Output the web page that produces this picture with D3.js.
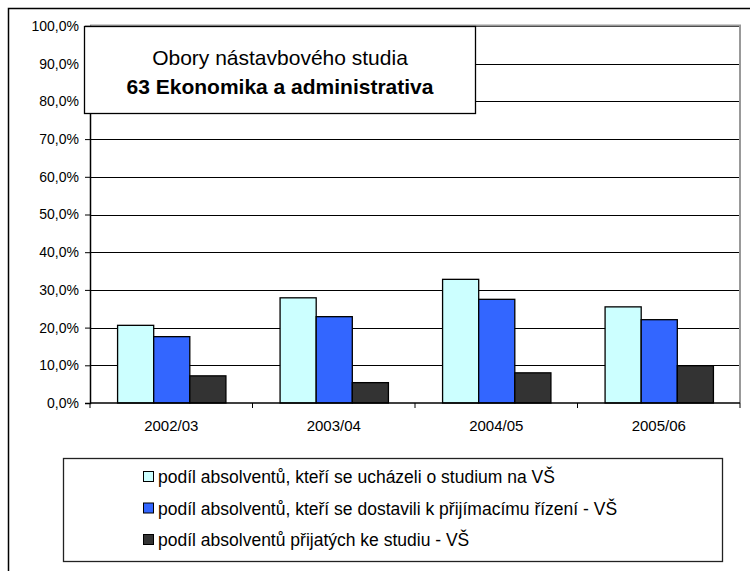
<!DOCTYPE html>
<html>
<head>
  <meta charset="utf-8">
  <script src="https://d3js.org/d3.v7.min.js"></script>
  <style>
    body { margin: 0; background: #fff; }
    text { font-family: "Liberation Sans", Arial, sans-serif; fill: #000; }
    .tick line { stroke: #000; }
    .domain { stroke: #000; }
  </style>
</head>
<body>
  <svg width="750" height="571"></svg>
  <script>
    const years = ['2002/03', '2003/04', '2004/05', '2005/06'];
    const seriesNames = [
      'podíl absolventů, kteří se ucházeli o studium na VŠ',
      'podíl absolventů, kteří se dostavili k přijímacímu řízení - VŠ',
      'podíl absolventů přijatých ke studiu - VŠ'
    ];
    const uchazeli = [20.6, 27.9, 32.8, 25.5];
    const dostavili = [17.6, 22.9, 27.5, 22.1];
    const prijati = [7.2, 5.4, 8.0, 9.9];
    const colors = ['#CCFFFF', '#3366FF', '#333333'];
    const yTicks = [0, 10, 20, 30, 40, 50, 60, 70, 80, 90, 100];
    const titleLines = ['Obory nástavbového studia', '63 Ekonomika a administrativa'];

    const seriesValues = [uchazeli, dostavili, prijati];

    const margin = { left: 90, top: 26 };
    const svg = d3.select('svg');
    const innerWidth = 740 - margin.left;
    const innerHeight = 403 - margin.top;

    // outer chart frame (left and top only visible)
    svg.append('path')
      .attr('d', 'M8.5,571 L8.5,8.5 L750,8.5')
      .attr('fill', 'none')
      .attr('stroke', '#000')
      .attr('stroke-width', 1.5);

    const g = svg.append('g')
      .attr('transform', `translate(${margin.left},${margin.top})`);

    const xScale = d3.scaleBand().domain(years).range([0, innerWidth]);
    const innerBand = d3.scaleBand()
      .domain(d3.range(seriesNames.length))
      .range([0, xScale.bandwidth()])
      .paddingOuter(0.75)
      .paddingInner(0);
    const yScale = d3.scaleLinear().domain([0, 100]).range([innerHeight, 0]);

    // gridlines
    g.append('g')
      .selectAll('line')
      .data(yTicks.slice(1))
      .enter().append('line')
      .attr('x1', 0)
      .attr('x2', innerWidth)
      .attr('y1', d => Math.round(yScale(d)) + 0.5)
      .attr('y2', d => Math.round(yScale(d)) + 0.5)
      .attr('stroke', '#000');

    // plot frame top/right (grey)
    g.append('path')
      .attr('d', `M0,-0.5 L${innerWidth},-0.5 L${innerWidth},${innerHeight}`)
      .attr('fill', 'none')
      .attr('stroke', '#999')
      .attr('stroke-width', 2);

    // bars
    const groups = g.selectAll('.grp')
      .data(years)
      .enter().append('g')
      .attr('class', 'grp')
      .attr('transform', d => `translate(${xScale(d)},0)`);

    groups.selectAll('rect')
      .data((d, i) => seriesValues.map((s, k) => ({ k: k, v: s[i] })))
      .enter().append('rect')
      .attr('x', d => innerBand(d.k) + 0.5)
      .attr('width', innerBand.bandwidth())
      .attr('y', d => yScale(d.v))
      .attr('height', d => innerHeight - yScale(d.v))
      .attr('fill', d => colors[d.k])
      .attr('stroke', '#000')
      .attr('stroke-width', 1.3);

    // y axis
    const yAxisG = g.append('g')
      .call(d3.axisLeft(yScale)
        .tickValues(yTicks)
        .tickSize(5)
        .tickPadding(6)
        .tickFormat(d => d3.format('.1f')(d).replace('.', ',') + '%'));
    yAxisG.selectAll('text').style('font-size', '14px');
    yAxisG.select('.domain').attr('stroke-width', 1.5);

    // x axis
    const xAxisG = g.append('g')
      .attr('transform', `translate(0,${innerHeight})`);
    xAxisG.append('line')
      .attr('x1', 0).attr('x2', innerWidth)
      .attr('y1', 0).attr('y2', 0)
      .attr('stroke', '#000').attr('stroke-width', 1.5);
    xAxisG.selectAll('.xt')
      .data(d3.range(years.length + 1))
      .enter().append('line')
      .attr('x1', d => d * xScale.step())
      .attr('x2', d => d * xScale.step())
      .attr('y1', 0).attr('y2', 5)
      .attr('stroke', '#000');
    xAxisG.selectAll('.xl')
      .data(years)
      .enter().append('text')
      .attr('x', d => xScale(d) + xScale.bandwidth() / 2)
      .attr('y', 28)
      .attr('text-anchor', 'middle')
      .style('font-size', '15px')
      .text(d => d);

    // title box
    const tb = svg.append('g').attr('transform', 'translate(84,26)');
    tb.append('rect')
      .attr('x', 0.5).attr('y', 0.5)
      .attr('width', 391).attr('height', 87)
      .attr('fill', '#fff')
      .attr('stroke', '#000')
      .attr('stroke-width', 1.3);
    tb.selectAll('.tt')
      .data(titleLines)
      .enter().append('text')
      .attr('x', 196)
      .attr('y', (d, i) => 39 + i * 29)
      .attr('text-anchor', 'middle')
      .style('font-size', '21px')
      .style('font-weight', (d, i) => i === 1 ? 'bold' : 'normal')
      .text(d => d);

    // legend
    const lg = svg.append('g').attr('transform', 'translate(63,458)');
    lg.append('rect')
      .attr('x', 0.5).attr('y', 0.5)
      .attr('width', 659).attr('height', 103)
      .attr('fill', '#fff')
      .attr('stroke', '#222')
      .attr('stroke-width', 1.3);
    const items = lg.selectAll('.li')
      .data(seriesNames)
      .enter().append('g')
      .attr('transform', (d, i) => `translate(80,${19 + i * 31.5})`);
    items.append('rect')
      .attr('x', 0.5).attr('y', -5.5)
      .attr('width', 10).attr('height', 10)
      .attr('fill', (d, i) => colors[i])
      .attr('stroke', '#000');
    items.append('text')
      .attr('x', 15).attr('y', 6)
      .style('font-size', '17.5px')
      .text(d => d);
  </script>
</body>
</html>
